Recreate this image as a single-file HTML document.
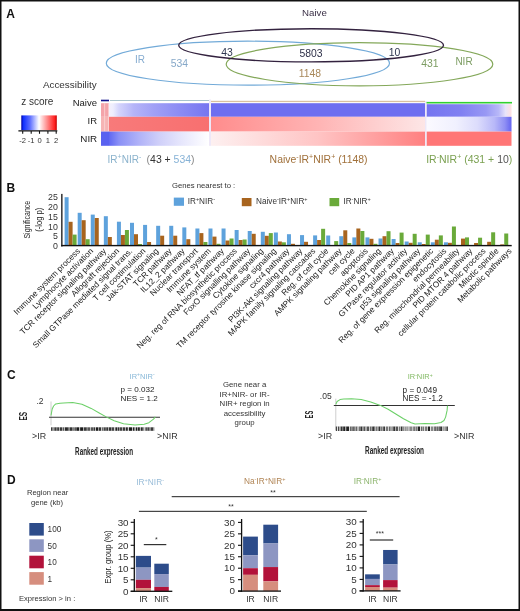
<!DOCTYPE html>
<html><head><meta charset="utf-8"><title>Figure</title>
<style>html,body{margin:0;padding:0;background:#fff;width:520px;height:611px;overflow:hidden;font-family:"Liberation Sans", sans-serif;}</style>
</head><body>
<div style="will-change:transform;width:520px;height:611px"><svg width="520" height="611" viewBox="0 0 520 611" style="display:block;font-family:'Liberation Sans', sans-serif" font-family="'Liberation Sans', sans-serif"><defs><linearGradient id="cb" x1="0" x2="1" y1="0" y2="0">
<stop offset="0" stop-color="#0000a0"/><stop offset="0.06" stop-color="#1030ff"/>
<stop offset="0.25" stop-color="#6070ff"/><stop offset="0.5" stop-color="#ffffff"/>
<stop offset="0.75" stop-color="#ff8080"/><stop offset="0.94" stop-color="#ff2020"/>
<stop offset="1" stop-color="#c00000"/></linearGradient><linearGradient id="s1n" x1="0" x2="1" y1="0" y2="0"><stop offset="0" stop-color="#f4f0fc"/><stop offset="0.04" stop-color="#eeeefe"/><stop offset="0.1" stop-color="#d4d4fc"/><stop offset="0.25" stop-color="#b4b4f8"/><stop offset="0.45" stop-color="#a0a0f6"/><stop offset="0.7" stop-color="#8c8cf4"/><stop offset="1" stop-color="#7676f0"/></linearGradient><linearGradient id="s1i" x1="0" x2="1" y1="0" y2="0"><stop offset="0" stop-color="#f87a7a"/><stop offset="1" stop-color="#f87070"/></linearGradient><linearGradient id="s1r" x1="0" x2="1" y1="0" y2="0"><stop offset="0" stop-color="#6068f2"/><stop offset="0.1" stop-color="#8a90f6"/><stop offset="0.3" stop-color="#b0b2f8"/><stop offset="0.5" stop-color="#cfcff9"/><stop offset="0.7" stop-color="#e4e4fc"/><stop offset="0.9" stop-color="#f6f6fe"/><stop offset="1" stop-color="#ffffff"/></linearGradient><linearGradient id="s2i" x1="0" x2="1" y1="0" y2="0"><stop offset="0" stop-color="#ff8c8c"/><stop offset="0.5" stop-color="#ffb4b4"/><stop offset="1" stop-color="#fde6e6"/></linearGradient><linearGradient id="s2r" x1="0" x2="1" y1="0" y2="0"><stop offset="0" stop-color="#fdf0f0"/><stop offset="0.5" stop-color="#ffc4c4"/><stop offset="1" stop-color="#ff8080"/></linearGradient><linearGradient id="s3n" x1="0" x2="1" y1="0" y2="0"><stop offset="0" stop-color="#7474f0"/><stop offset="0.4" stop-color="#8080f2"/><stop offset="0.7" stop-color="#9898f4"/><stop offset="0.85" stop-color="#b8b8f8"/><stop offset="0.93" stop-color="#e8e4fa"/><stop offset="1" stop-color="#ffe0e0"/></linearGradient><linearGradient id="s3i" x1="0" x2="1" y1="0" y2="0"><stop offset="0" stop-color="#fbfaff"/><stop offset="0.35" stop-color="#f0f0fe"/><stop offset="0.6" stop-color="#dcdcfc"/><stop offset="0.8" stop-color="#b8b8f8"/><stop offset="0.92" stop-color="#9090f4"/><stop offset="1" stop-color="#6464f0"/></linearGradient></defs><rect width="520" height="611" fill="#fff"/><text x="6.3" y="17.8" font-size="12" fill="#111" text-anchor="start" font-weight="bold" >A</text>
<text x="302" y="15.9" font-size="9.7" fill="#3c3148" text-anchor="start" font-weight="normal" >Naive</text>
<ellipse cx="247.9" cy="63.2" rx="141.6" ry="22" fill="none" stroke="#72aad8" stroke-width="1.2"/>
<ellipse cx="359.5" cy="64.2" rx="133.3" ry="21.6" fill="none" stroke="#84a85a" stroke-width="1.2"/>
<ellipse cx="311.1" cy="45.3" rx="132.4" ry="16.6" fill="none" stroke="#33223f" stroke-width="1.35"/>
<text x="135" y="62.8" font-size="10" fill="#86acd0" text-anchor="start" font-weight="normal" >IR</text>
<text x="170.8" y="67.1" font-size="10.4" fill="#86a8c8" text-anchor="start" font-weight="normal" >534</text>
<text x="221.2" y="55.5" font-size="10.4" fill="#2e3650" text-anchor="start" font-weight="normal" >43</text>
<text x="299.5" y="56.8" font-size="10.4" fill="#2e3048" text-anchor="start" font-weight="normal" >5803</text>
<text x="388.7" y="55.5" font-size="10.4" fill="#2e3650" text-anchor="start" font-weight="normal" >10</text>
<text x="298.7" y="76.8" font-size="10.4" fill="#a8885a" text-anchor="start" font-weight="normal" >1148</text>
<text x="421.2" y="67.4" font-size="10.4" fill="#7c9c62" text-anchor="start" font-weight="normal" >431</text>
<text x="455.4" y="64.8" font-size="10" fill="#7c9c62" text-anchor="start" font-weight="normal" >NIR</text>
<text x="42.9" y="87.7" font-size="9.9" fill="#333" text-anchor="start" font-weight="normal" >Accessibility</text>
<text x="21.2" y="104.7" font-size="10" fill="#333" text-anchor="start" font-weight="normal" >z score</text>
<rect x="21.30" y="115.40" width="35.50" height="14.80" fill="url(#cb)" />
<line x1="18.4" y1="130.9" x2="57.3" y2="130.9" stroke="#111" stroke-width="1.3" />
<line x1="22.7" y1="130.9" x2="22.7" y2="133.8" stroke="#111" stroke-width="1.1" />
<text x="22.7" y="143.3" font-size="7.6" fill="#333" text-anchor="middle" font-weight="normal" >-2</text>
<line x1="31.2" y1="130.9" x2="31.2" y2="133.8" stroke="#111" stroke-width="1.1" />
<text x="31.2" y="143.3" font-size="7.6" fill="#333" text-anchor="middle" font-weight="normal" >-1</text>
<line x1="39.5" y1="130.9" x2="39.5" y2="133.8" stroke="#111" stroke-width="1.1" />
<text x="39.5" y="143.3" font-size="7.6" fill="#333" text-anchor="middle" font-weight="normal" >0</text>
<line x1="47.9" y1="130.9" x2="47.9" y2="133.8" stroke="#111" stroke-width="1.1" />
<text x="47.9" y="143.3" font-size="7.6" fill="#333" text-anchor="middle" font-weight="normal" >1</text>
<line x1="56.2" y1="130.9" x2="56.2" y2="133.8" stroke="#111" stroke-width="1.1" />
<text x="56.2" y="143.3" font-size="7.6" fill="#333" text-anchor="middle" font-weight="normal" >2</text>
<text x="97" y="105.8" font-size="9.5" fill="#222" text-anchor="end" font-weight="normal" >Naive</text>
<text x="97" y="124.3" font-size="9.5" fill="#222" text-anchor="end" font-weight="normal" >IR</text>
<text x="97.2" y="141.6" font-size="9.8" fill="#222" text-anchor="end" font-weight="normal" >NIR</text>
<rect x="101.00" y="103.20" width="8.00" height="13.60" fill="#f4a4aa" />
<rect x="101.00" y="116.80" width="8.00" height="14.80" fill="#f6b4b4" />
<rect x="104.30" y="103.20" width="0.80" height="28.40" fill="#fbd6d6" />
<rect x="108.20" y="103.20" width="0.80" height="28.40" fill="#fbd6d6" />
<rect x="101.00" y="131.60" width="8.00" height="14.20" fill="#5a62f0" />
<rect x="109.00" y="103.20" width="100.00" height="13.60" fill="url(#s1n)" />
<rect x="109.00" y="116.80" width="100.00" height="14.80" fill="url(#s1i)" />
<rect x="109.00" y="131.60" width="100.00" height="14.20" fill="url(#s1r)" />
<rect x="211.00" y="103.20" width="214.00" height="13.60" fill="#6e6ef0" />
<rect x="211.00" y="116.80" width="214.00" height="14.80" fill="url(#s2i)" />
<rect x="211.00" y="131.60" width="214.00" height="14.20" fill="url(#s2r)" />
<rect x="426.50" y="104.20" width="85.00" height="12.60" fill="url(#s3n)" />
<rect x="426.50" y="116.80" width="85.00" height="14.80" fill="url(#s3i)" />
<rect x="426.50" y="131.60" width="85.00" height="14.20" fill="#ff7676" />
<rect x="209.00" y="99.50" width="2.00" height="46.30" fill="#eee8f8" />
<rect x="425.00" y="101.00" width="1.50" height="44.80" fill="#eee8f8" />
<rect x="101.00" y="99.70" width="8.00" height="1.60" fill="#10108a" />
<rect x="110.00" y="100.00" width="99.00" height="1.00" fill="#a8c4cc" />
<rect x="211.00" y="100.80" width="214.00" height="1.30" fill="#d8c0a0" />
<rect x="426.50" y="101.90" width="85.50" height="1.60" fill="#30d030" />
<text x="107.6" y="162.6" font-size="10" fill="#8ab2cc">IR<tspan dy="-3.6" font-size="7">+</tspan><tspan dy="3.6">NIR</tspan><tspan dy="-3.6" font-size="7">-</tspan></text>
<text x="146.6" y="162.6" font-size="10.45" fill="#888">(<tspan fill="#333">43 + </tspan><tspan fill="#86b2d6">534</tspan>)</text>
<text x="269.6" y="162.8" font-size="10.45" fill="#a0703a">Naive<tspan dy="-3.6" font-size="7">-</tspan><tspan dy="3.6">IR</tspan><tspan dy="-3.6" font-size="7">+</tspan><tspan dy="3.6">NIR</tspan><tspan dy="-3.6" font-size="7">+</tspan><tspan dy="3.6"> (1148)</tspan></text>
<text x="426.2" y="162.6" font-size="10.5" fill="#7aa050">IR<tspan dy="-3.6" font-size="7">-</tspan><tspan dy="3.6">NIR</tspan><tspan dy="-3.6" font-size="7">+</tspan><tspan dy="3.6"> (431 + </tspan><tspan fill="#555">10</tspan>)</text>
<text x="6.5" y="191.9" font-size="12" fill="#111" text-anchor="start" font-weight="bold" >B</text>
<text x="172" y="188.4" font-size="7.7" fill="#333" text-anchor="start" font-weight="normal" >Genes nearest to :</text>
<rect x="173.80" y="197.60" width="10.20" height="8.20" fill="#5ea2dc" />
<text x="187.7" y="203.7" font-size="8.2" fill="#333">IR<tspan dy="-2.6" font-size="5.5">+</tspan><tspan dy="2.6">NIR</tspan><tspan dy="-2.6" font-size="5.5">-</tspan></text>
<rect x="241.80" y="198.00" width="9.70" height="8.20" fill="#a8641e" />
<text x="256" y="203.7" font-size="8.2" fill="#333">Naive<tspan dy="-2.6" font-size="5.5">-</tspan><tspan dy="2.6">IR</tspan><tspan dy="-2.6" font-size="5.5">+</tspan><tspan dy="2.6">NIR</tspan><tspan dy="-2.6" font-size="5.5">+</tspan></text>
<rect x="329.50" y="198.00" width="9.70" height="8.20" fill="#6aaa3a" />
<text x="343.4" y="203.7" font-size="8.2" fill="#333">IR<tspan dy="-2.6" font-size="5.5">-</tspan><tspan dy="2.6">NIR</tspan><tspan dy="-2.6" font-size="5.5">+</tspan></text>
<rect x="64.60" y="197.20" width="4.00" height="48.30" fill="#5ea2dc" />
<rect x="68.60" y="221.80" width="4.00" height="23.70" fill="#a8641e" />
<rect x="72.60" y="234.60" width="4.00" height="10.90" fill="#6aaa3a" />
<rect x="77.68" y="212.80" width="4.00" height="32.70" fill="#5ea2dc" />
<rect x="81.68" y="220.20" width="4.00" height="25.30" fill="#a8641e" />
<rect x="85.68" y="239.20" width="4.00" height="6.30" fill="#6aaa3a" />
<rect x="90.76" y="214.60" width="4.00" height="30.90" fill="#5ea2dc" />
<rect x="94.76" y="218.00" width="4.00" height="27.50" fill="#a8641e" />
<rect x="103.84" y="216.20" width="4.00" height="29.30" fill="#5ea2dc" />
<rect x="107.84" y="237.00" width="4.00" height="8.50" fill="#a8641e" />
<rect x="116.92" y="221.70" width="4.00" height="23.80" fill="#5ea2dc" />
<rect x="120.92" y="235.00" width="4.00" height="10.50" fill="#a8641e" />
<rect x="124.92" y="230.00" width="4.00" height="15.50" fill="#6aaa3a" />
<rect x="130.00" y="222.80" width="4.00" height="22.70" fill="#5ea2dc" />
<rect x="134.00" y="234.20" width="4.00" height="11.30" fill="#a8641e" />
<rect x="138.00" y="244.00" width="4.00" height="1.50" fill="#6aaa3a" />
<rect x="143.08" y="224.90" width="4.00" height="20.60" fill="#5ea2dc" />
<rect x="147.08" y="242.00" width="4.00" height="3.50" fill="#a8641e" />
<rect x="156.16" y="225.80" width="4.00" height="19.70" fill="#5ea2dc" />
<rect x="160.16" y="235.70" width="4.00" height="9.80" fill="#a8641e" />
<rect x="169.24" y="225.80" width="4.00" height="19.70" fill="#5ea2dc" />
<rect x="173.24" y="235.70" width="4.00" height="9.80" fill="#a8641e" />
<rect x="182.32" y="227.40" width="4.00" height="18.10" fill="#5ea2dc" />
<rect x="186.32" y="239.20" width="4.00" height="6.30" fill="#a8641e" />
<rect x="195.40" y="228.50" width="4.00" height="17.00" fill="#5ea2dc" />
<rect x="199.40" y="233.10" width="4.00" height="12.40" fill="#a8641e" />
<rect x="203.40" y="242.00" width="4.00" height="3.50" fill="#6aaa3a" />
<rect x="208.48" y="228.50" width="4.00" height="17.00" fill="#5ea2dc" />
<rect x="212.48" y="236.60" width="4.00" height="8.90" fill="#a8641e" />
<rect x="216.48" y="243.80" width="4.00" height="1.70" fill="#6aaa3a" />
<rect x="221.56" y="228.50" width="4.00" height="17.00" fill="#5ea2dc" />
<rect x="225.56" y="240.50" width="4.00" height="5.00" fill="#a8641e" />
<rect x="229.56" y="238.50" width="4.00" height="7.00" fill="#6aaa3a" />
<rect x="234.64" y="230.00" width="4.00" height="15.50" fill="#5ea2dc" />
<rect x="238.64" y="240.00" width="4.00" height="5.50" fill="#a8641e" />
<rect x="242.64" y="239.50" width="4.00" height="6.00" fill="#6aaa3a" />
<rect x="247.72" y="231.00" width="4.00" height="14.50" fill="#5ea2dc" />
<rect x="251.72" y="233.80" width="4.00" height="11.70" fill="#a8641e" />
<rect x="260.80" y="231.80" width="4.00" height="13.70" fill="#5ea2dc" />
<rect x="264.80" y="235.80" width="4.00" height="9.70" fill="#a8641e" />
<rect x="268.80" y="233.10" width="4.00" height="12.40" fill="#6aaa3a" />
<rect x="273.88" y="232.50" width="4.00" height="13.00" fill="#5ea2dc" />
<rect x="277.88" y="241.50" width="4.00" height="4.00" fill="#a8641e" />
<rect x="281.88" y="242.30" width="4.00" height="3.20" fill="#6aaa3a" />
<rect x="286.96" y="234.20" width="4.00" height="11.30" fill="#5ea2dc" />
<rect x="290.96" y="243.80" width="4.00" height="1.70" fill="#a8641e" />
<rect x="300.04" y="235.10" width="4.00" height="10.40" fill="#5ea2dc" />
<rect x="304.04" y="241.80" width="4.00" height="3.70" fill="#a8641e" />
<rect x="313.12" y="235.40" width="4.00" height="10.10" fill="#5ea2dc" />
<rect x="317.12" y="240.00" width="4.00" height="5.50" fill="#a8641e" />
<rect x="321.12" y="228.80" width="4.00" height="16.70" fill="#6aaa3a" />
<rect x="326.20" y="235.50" width="4.00" height="10.00" fill="#5ea2dc" />
<rect x="334.20" y="241.10" width="4.00" height="4.40" fill="#6aaa3a" />
<rect x="339.28" y="236.20" width="4.00" height="9.30" fill="#5ea2dc" />
<rect x="343.28" y="230.30" width="4.00" height="15.20" fill="#a8641e" />
<rect x="347.28" y="243.00" width="4.00" height="2.50" fill="#6aaa3a" />
<rect x="352.36" y="237.40" width="4.00" height="8.10" fill="#5ea2dc" />
<rect x="356.36" y="228.50" width="4.00" height="17.00" fill="#a8641e" />
<rect x="360.36" y="231.00" width="4.00" height="14.50" fill="#6aaa3a" />
<rect x="365.44" y="237.40" width="4.00" height="8.10" fill="#5ea2dc" />
<rect x="369.44" y="238.80" width="4.00" height="6.70" fill="#a8641e" />
<rect x="373.44" y="243.80" width="4.00" height="1.70" fill="#6aaa3a" />
<rect x="378.52" y="238.50" width="4.00" height="7.00" fill="#5ea2dc" />
<rect x="382.52" y="236.20" width="4.00" height="9.30" fill="#a8641e" />
<rect x="386.52" y="231.20" width="4.00" height="14.30" fill="#6aaa3a" />
<rect x="391.60" y="239.00" width="4.00" height="6.50" fill="#5ea2dc" />
<rect x="395.60" y="243.00" width="4.00" height="2.50" fill="#a8641e" />
<rect x="399.60" y="232.60" width="4.00" height="12.90" fill="#6aaa3a" />
<rect x="404.68" y="241.50" width="4.00" height="4.00" fill="#5ea2dc" />
<rect x="408.68" y="242.80" width="4.00" height="2.70" fill="#a8641e" />
<rect x="412.68" y="233.80" width="4.00" height="11.70" fill="#6aaa3a" />
<rect x="417.76" y="242.30" width="4.00" height="3.20" fill="#5ea2dc" />
<rect x="421.76" y="244.00" width="4.00" height="1.50" fill="#a8641e" />
<rect x="425.76" y="234.60" width="4.00" height="10.90" fill="#6aaa3a" />
<rect x="430.84" y="242.30" width="4.00" height="3.20" fill="#5ea2dc" />
<rect x="434.84" y="239.70" width="4.00" height="5.80" fill="#a8641e" />
<rect x="438.84" y="235.40" width="4.00" height="10.10" fill="#6aaa3a" />
<rect x="443.92" y="242.30" width="4.00" height="3.20" fill="#5ea2dc" />
<rect x="447.92" y="242.80" width="4.00" height="2.70" fill="#a8641e" />
<rect x="451.92" y="226.50" width="4.00" height="19.00" fill="#6aaa3a" />
<rect x="461.00" y="238.60" width="4.00" height="6.90" fill="#a8641e" />
<rect x="465.00" y="237.40" width="4.00" height="8.10" fill="#6aaa3a" />
<rect x="474.08" y="243.00" width="4.00" height="2.50" fill="#a8641e" />
<rect x="478.08" y="237.70" width="4.00" height="7.80" fill="#6aaa3a" />
<rect x="487.16" y="241.80" width="4.00" height="3.70" fill="#a8641e" />
<rect x="491.16" y="232.30" width="4.00" height="13.20" fill="#6aaa3a" />
<rect x="500.24" y="244.40" width="4.00" height="1.10" fill="#a8641e" />
<rect x="504.24" y="233.50" width="4.00" height="12.00" fill="#6aaa3a" />
<rect x="61.20" y="193.90" width="1.30" height="52.60" fill="#111" />
<rect x="61.20" y="244.90" width="450.50" height="1.40" fill="#111" />
<text x="57.9" y="200.35" font-size="8.8" fill="#333" text-anchor="end" font-weight="normal" >25</text>
<text x="57.9" y="210.07" font-size="8.8" fill="#333" text-anchor="end" font-weight="normal" >20</text>
<text x="57.9" y="219.79" font-size="8.8" fill="#333" text-anchor="end" font-weight="normal" >15</text>
<text x="57.9" y="229.51" font-size="8.8" fill="#333" text-anchor="end" font-weight="normal" >10</text>
<text x="57.9" y="239.23" font-size="8.8" fill="#333" text-anchor="end" font-weight="normal" >5</text>
<text x="57.9" y="248.95" font-size="8.8" fill="#333" text-anchor="end" font-weight="normal" >0</text>
<text transform="translate(29.9,219.7) rotate(-90)" font-size="9.4" fill="#222" text-anchor="middle" textLength="37.8" lengthAdjust="spacingAndGlyphs">Significance</text>
<text transform="translate(41.6,219.7) rotate(-90)" font-size="8.4" fill="#222" text-anchor="middle" textLength="24" lengthAdjust="spacingAndGlyphs">(-log p)</text>
<text transform="translate(80.60,251.6) rotate(-45)" font-size="8.3" fill="#222" text-anchor="end">Immune system process</text>
<text transform="translate(93.68,251.6) rotate(-45)" font-size="8.3" fill="#222" text-anchor="end">Lymphocyte activation</text>
<text transform="translate(106.76,251.6) rotate(-45)" font-size="8.3" fill="#222" text-anchor="end">TCR receptor signaling pathway</text>
<text transform="translate(119.84,251.6) rotate(-45)" font-size="8.3" fill="#222" text-anchor="end">Allograft rejection</text>
<text transform="translate(132.92,251.6) rotate(-45)" font-size="8.3" fill="#222" text-anchor="end">Small GTPase mediated signal trans.</text>
<text transform="translate(146.00,251.6) rotate(-45)" font-size="8.3" fill="#222" text-anchor="end">T cell costimulation</text>
<text transform="translate(159.08,251.6) rotate(-45)" font-size="8.3" fill="#222" text-anchor="end">Jak-STAT signaling</text>
<text transform="translate(172.16,251.6) rotate(-45)" font-size="8.3" fill="#222" text-anchor="end">TCR pathway</text>
<text transform="translate(185.24,251.6) rotate(-45)" font-size="8.3" fill="#222" text-anchor="end">IL12_2 pathway</text>
<text transform="translate(198.32,251.6) rotate(-45)" font-size="8.3" fill="#222" text-anchor="end">Nuclear transport</text>
<text transform="translate(211.40,251.6) rotate(-45)" font-size="8.3" fill="#222" text-anchor="end">Immune system</text>
<text transform="translate(224.48,251.6) rotate(-45)" font-size="8.3" fill="#222" text-anchor="end">NFAT_tf pathway</text>
<text transform="translate(237.56,251.6) rotate(-45)" font-size="8.3" fill="#222" text-anchor="end">Neg. reg of RNA biosynthetic process</text>
<text transform="translate(250.64,251.6) rotate(-45)" font-size="8.3" fill="#222" text-anchor="end">FoxO signalling pathway</text>
<text transform="translate(263.72,251.6) rotate(-45)" font-size="8.3" fill="#222" text-anchor="end">Cytokine signaling</text>
<text transform="translate(276.80,251.6) rotate(-45)" font-size="8.3" fill="#222" text-anchor="end">TM receptor tyrosine kinase signaling</text>
<text transform="translate(289.88,251.6) rotate(-45)" font-size="8.3" fill="#222" text-anchor="end">cxcr4 pathway</text>
<text transform="translate(302.96,251.6) rotate(-45)" font-size="8.3" fill="#222" text-anchor="end">PI3K-Akt signaling pathway</text>
<text transform="translate(316.04,251.6) rotate(-45)" font-size="8.3" fill="#222" text-anchor="end">MAPK family signaling cascades</text>
<text transform="translate(329.12,251.6) rotate(-45)" font-size="8.3" fill="#222" text-anchor="end">Reg. of cell cycle</text>
<text transform="translate(342.20,251.6) rotate(-45)" font-size="8.3" fill="#222" text-anchor="end">AMPK signaling pathway</text>
<text transform="translate(355.28,251.6) rotate(-45)" font-size="8.3" fill="#222" text-anchor="end">cell cycle</text>
<text transform="translate(368.36,251.6) rotate(-45)" font-size="8.3" fill="#222" text-anchor="end">apoptosis</text>
<text transform="translate(381.44,251.6) rotate(-45)" font-size="8.3" fill="#222" text-anchor="end">Chemokine signaling</text>
<text transform="translate(394.52,251.6) rotate(-45)" font-size="8.3" fill="#222" text-anchor="end">PID AP1 pathway</text>
<text transform="translate(407.60,251.6) rotate(-45)" font-size="8.3" fill="#222" text-anchor="end">GTPase regulator activity</text>
<text transform="translate(420.68,251.6) rotate(-45)" font-size="8.3" fill="#222" text-anchor="end">p53 signaling pathway</text>
<text transform="translate(433.76,251.6) rotate(-45)" font-size="8.3" fill="#222" text-anchor="end">Reg. of gene expression epigenetic</text>
<text transform="translate(446.84,251.6) rotate(-45)" font-size="8.3" fill="#222" text-anchor="end">endocytosis</text>
<text transform="translate(459.92,251.6) rotate(-45)" font-size="8.3" fill="#222" text-anchor="end">Reg. mitochondrial permeability</text>
<text transform="translate(473.00,251.6) rotate(-45)" font-size="8.3" fill="#222" text-anchor="end">PID MTOR 4 pathway</text>
<text transform="translate(486.08,251.6) rotate(-45)" font-size="8.3" fill="#222" text-anchor="end">cellular protein catabolic process</text>
<text transform="translate(499.16,251.6) rotate(-45)" font-size="8.3" fill="#222" text-anchor="end">Mitotic spindle</text>
<text transform="translate(512.24,251.6) rotate(-45)" font-size="8.3" fill="#222" text-anchor="end">Metabolic pathways</text>
<text x="6.9" y="378.8" font-size="12" fill="#111" text-anchor="start" font-weight="bold" >C</text>
<line x1="51" y1="401.5" x2="51" y2="425.3" stroke="#c8c8c8" stroke-width="0.9" />
<line x1="49" y1="417.2" x2="160" y2="417.2" stroke="#333" stroke-width="1.1" />
<path d="M51.0,415.5 L52.2,409.0 L53.6,406.0 L55.7,403.9 L60.0,403.3 L63.5,403.1 L72.7,402.4 L81.9,404.2 L91.2,408.4 L99.2,413.0 L106.2,416.9 L114.2,420.8 L123.5,423.8 L135.0,425.0 L144.2,424.3 L148.9,422.7 L153.5,419.2 L155.3,416.9" fill="none" stroke="#6cd068" stroke-width="1.05" stroke-linejoin="round"/>
<rect x="51.00" y="427.30" width="1.12" height="3.50" fill="#3a3a3a" />
<rect x="52.12" y="427.30" width="0.40" height="3.50" fill="#aaa" />
<rect x="52.52" y="427.30" width="1.08" height="3.50" fill="#3a3a3a" />
<rect x="53.61" y="427.30" width="0.70" height="3.50" fill="#bbb" />
<rect x="54.31" y="427.30" width="2.36" height="3.50" fill="#3a3a3a" />
<rect x="56.67" y="427.30" width="0.50" height="3.50" fill="#888" />
<rect x="57.17" y="427.30" width="1.97" height="3.50" fill="#3a3a3a" />
<rect x="59.14" y="427.30" width="0.70" height="3.50" fill="#bbb" />
<rect x="59.84" y="427.30" width="2.26" height="3.50" fill="#3a3a3a" />
<rect x="62.10" y="427.30" width="0.40" height="3.50" fill="#fff" />
<rect x="62.50" y="427.30" width="1.87" height="3.50" fill="#555" />
<rect x="64.37" y="427.30" width="0.50" height="3.50" fill="#ddd" />
<rect x="64.87" y="427.30" width="3.07" height="3.50" fill="#2a2a2a" />
<rect x="67.94" y="427.30" width="0.40" height="3.50" fill="#888" />
<rect x="68.34" y="427.30" width="0.86" height="3.50" fill="#444" />
<rect x="69.20" y="427.30" width="0.40" height="3.50" fill="#bbb" />
<rect x="69.60" y="427.30" width="2.45" height="3.50" fill="#333" />
<rect x="72.04" y="427.30" width="0.40" height="3.50" fill="#ddd" />
<rect x="72.44" y="427.30" width="1.33" height="3.50" fill="#333" />
<rect x="73.78" y="427.30" width="0.70" height="3.50" fill="#ddd" />
<rect x="74.48" y="427.30" width="1.36" height="3.50" fill="#222" />
<rect x="75.84" y="427.30" width="0.50" height="3.50" fill="#bbb" />
<rect x="76.34" y="427.30" width="3.09" height="3.50" fill="#1a1a1a" />
<rect x="79.42" y="427.30" width="0.70" height="3.50" fill="#ddd" />
<rect x="80.12" y="427.30" width="3.01" height="3.50" fill="#1a1a1a" />
<rect x="83.13" y="427.30" width="0.50" height="3.50" fill="#fff" />
<rect x="83.63" y="427.30" width="3.18" height="3.50" fill="#3a3a3a" />
<rect x="86.82" y="427.30" width="0.60" height="3.50" fill="#888" />
<rect x="87.42" y="427.30" width="2.58" height="3.50" fill="#555" />
<rect x="90.00" y="427.30" width="1.00" height="3.50" fill="#bbb" />
<rect x="91.00" y="427.30" width="2.02" height="3.50" fill="#555" />
<rect x="93.02" y="427.30" width="0.50" height="3.50" fill="#aaa" />
<rect x="93.52" y="427.30" width="1.48" height="3.50" fill="#333" />
<rect x="95.00" y="427.30" width="1.00" height="3.50" fill="#bbb" />
<rect x="96.00" y="427.30" width="2.21" height="3.50" fill="#1a1a1a" />
<rect x="98.21" y="427.30" width="0.70" height="3.50" fill="#999" />
<rect x="98.91" y="427.30" width="2.58" height="3.50" fill="#333" />
<rect x="101.50" y="427.30" width="0.70" height="3.50" fill="#fff" />
<rect x="102.20" y="427.30" width="1.22" height="3.50" fill="#444" />
<rect x="103.41" y="427.30" width="0.60" height="3.50" fill="#888" />
<rect x="104.01" y="427.30" width="1.85" height="3.50" fill="#444" />
<rect x="105.87" y="427.30" width="0.40" height="3.50" fill="#999" />
<rect x="106.27" y="427.30" width="2.05" height="3.50" fill="#333" />
<rect x="108.32" y="427.30" width="0.60" height="3.50" fill="#bbb" />
<rect x="108.92" y="427.30" width="2.56" height="3.50" fill="#333" />
<rect x="111.48" y="427.30" width="0.40" height="3.50" fill="#aaa" />
<rect x="111.88" y="427.30" width="2.49" height="3.50" fill="#444" />
<rect x="114.36" y="427.30" width="1.00" height="3.50" fill="#ddd" />
<rect x="115.36" y="427.30" width="1.74" height="3.50" fill="#222" />
<rect x="117.11" y="427.30" width="0.50" height="3.50" fill="#ddd" />
<rect x="117.61" y="427.30" width="1.34" height="3.50" fill="#1a1a1a" />
<rect x="118.95" y="427.30" width="0.50" height="3.50" fill="#ddd" />
<rect x="119.45" y="427.30" width="3.01" height="3.50" fill="#444" />
<rect x="122.46" y="427.30" width="0.50" height="3.50" fill="#bbb" />
<rect x="122.96" y="427.30" width="2.03" height="3.50" fill="#3a3a3a" />
<rect x="125.00" y="427.30" width="1.00" height="3.50" fill="#aaa" />
<rect x="126.00" y="427.30" width="1.90" height="3.50" fill="#2a2a2a" />
<rect x="127.90" y="427.30" width="1.00" height="3.50" fill="#ddd" />
<rect x="128.90" y="427.30" width="3.10" height="3.50" fill="#1a1a1a" />
<rect x="131.99" y="427.30" width="0.70" height="3.50" fill="#fff" />
<rect x="132.69" y="427.30" width="2.03" height="3.50" fill="#222" />
<rect x="134.72" y="427.30" width="1.00" height="3.50" fill="#ddd" />
<rect x="135.72" y="427.30" width="1.29" height="3.50" fill="#1a1a1a" />
<rect x="137.02" y="427.30" width="0.70" height="3.50" fill="#aaa" />
<rect x="137.72" y="427.30" width="2.17" height="3.50" fill="#222" />
<rect x="139.89" y="427.30" width="1.00" height="3.50" fill="#bbb" />
<rect x="140.89" y="427.30" width="1.96" height="3.50" fill="#2a2a2a" />
<rect x="142.85" y="427.30" width="0.70" height="3.50" fill="#aaa" />
<rect x="143.55" y="427.30" width="0.80" height="3.50" fill="#444" />
<rect x="144.35" y="427.30" width="1.00" height="3.50" fill="#ddd" />
<rect x="145.35" y="427.30" width="1.59" height="3.50" fill="#444" />
<rect x="146.95" y="427.30" width="0.40" height="3.50" fill="#999" />
<rect x="147.35" y="427.30" width="2.32" height="3.50" fill="#444" />
<rect x="149.67" y="427.30" width="1.00" height="3.50" fill="#999" />
<rect x="150.67" y="427.30" width="2.87" height="3.50" fill="#3a3a3a" />
<rect x="153.54" y="427.30" width="1.00" height="3.50" fill="#aaa" />
<text x="36.4" y="403.7" font-size="8.5" fill="#333" text-anchor="start" font-weight="normal" >.2</text>
<text transform="translate(27.0,416.2) rotate(-90)" font-size="10.2" font-weight="bold" fill="#222" text-anchor="middle" textLength="8.6" lengthAdjust="spacingAndGlyphs">ES</text>
<text x="129.6" y="378.6" font-size="7.5" fill="#88b8d8">IR<tspan dy="-2.4" font-size="5">+</tspan><tspan dy="2.4">NIR</tspan><tspan dy="-2.4" font-size="5">-</tspan></text>
<text x="120.6" y="392.1" font-size="8.1" fill="#222" text-anchor="start" font-weight="normal" >p = 0.032</text>
<text x="120.6" y="401.3" font-size="8.1" fill="#222" text-anchor="start" font-weight="normal" >NES = 1.2</text>
<text x="32.0" y="439.3" font-size="8.9" fill="#333" text-anchor="start" font-weight="normal" >&gt;IR</text>
<text x="157.1" y="439.3" font-size="8.9" fill="#333" text-anchor="start" font-weight="normal" >&gt;NIR</text>
<text x="75.1" y="454.5" font-size="10.6" fill="#222" font-weight="bold" textLength="57.9" lengthAdjust="spacingAndGlyphs">Ranked expression</text>
<text x="244.6" y="387.4" font-size="7.8" fill="#333" text-anchor="middle" font-weight="normal" >Gene near a</text>
<text x="244.6" y="396.9" font-size="7.8" fill="#333" text-anchor="middle" font-weight="normal" >IR+NIR- or IR-</text>
<text x="244.6" y="406.4" font-size="7.8" fill="#333" text-anchor="middle" font-weight="normal" >NIR+ region in</text>
<text x="244.6" y="415.9" font-size="7.8" fill="#333" text-anchor="middle" font-weight="normal" >accessibility</text>
<text x="244.6" y="425.4" font-size="7.8" fill="#333" text-anchor="middle" font-weight="normal" >group</text>
<line x1="335.8" y1="398.7" x2="335.8" y2="430" stroke="#c8c8c8" stroke-width="0.9" />
<line x1="333.8" y1="405.5" x2="454.8" y2="405.5" stroke="#333" stroke-width="1.1" />
<path d="M335.8,404.4 L337.1,401.5 L340.0,399.6 L343.8,399.0 L351.5,398.7 L361.2,399.6 L370.8,401.9 L380.4,405.4 L388.1,409.2 L395.8,414.0 L403.5,418.8 L411.2,422.7 L415.0,424.0 L425.0,423.6 L434.6,423.8 L441.0,422.5 L444.0,420.5 L445.6,417.1 L447.1,410.4 L447.5,405.6" fill="none" stroke="#6cd068" stroke-width="1.05" stroke-linejoin="round"/>
<rect x="335.80" y="426.50" width="1.51" height="4.50" fill="#444" />
<rect x="337.31" y="426.50" width="0.80" height="4.50" fill="#eee" />
<rect x="338.11" y="426.50" width="0.91" height="4.50" fill="#333" />
<rect x="339.02" y="426.50" width="0.60" height="4.50" fill="#ddd" />
<rect x="339.62" y="426.50" width="0.93" height="4.50" fill="#555" />
<rect x="340.55" y="426.50" width="0.40" height="4.50" fill="#999" />
<rect x="340.95" y="426.50" width="1.75" height="4.50" fill="#333" />
<rect x="342.70" y="426.50" width="0.50" height="4.50" fill="#999" />
<rect x="343.20" y="426.50" width="2.01" height="4.50" fill="#222" />
<rect x="345.21" y="426.50" width="1.00" height="4.50" fill="#999" />
<rect x="346.21" y="426.50" width="2.88" height="4.50" fill="#222" />
<rect x="349.10" y="426.50" width="1.00" height="4.50" fill="#ddd" />
<rect x="350.10" y="426.50" width="1.67" height="4.50" fill="#555" />
<rect x="351.77" y="426.50" width="0.40" height="4.50" fill="#ddd" />
<rect x="352.17" y="426.50" width="2.69" height="4.50" fill="#666" />
<rect x="354.86" y="426.50" width="0.80" height="4.50" fill="#aaa" />
<rect x="355.66" y="426.50" width="1.99" height="4.50" fill="#666" />
<rect x="357.65" y="426.50" width="1.00" height="4.50" fill="#eee" />
<rect x="358.65" y="426.50" width="1.20" height="4.50" fill="#555" />
<rect x="359.85" y="426.50" width="0.60" height="4.50" fill="#999" />
<rect x="360.45" y="426.50" width="2.01" height="4.50" fill="#333" />
<rect x="362.45" y="426.50" width="1.00" height="4.50" fill="#999" />
<rect x="363.45" y="426.50" width="2.16" height="4.50" fill="#555" />
<rect x="365.61" y="426.50" width="1.00" height="4.50" fill="#ccc" />
<rect x="366.61" y="426.50" width="2.51" height="4.50" fill="#555" />
<rect x="369.12" y="426.50" width="1.00" height="4.50" fill="#ccc" />
<rect x="370.12" y="426.50" width="1.60" height="4.50" fill="#555" />
<rect x="371.72" y="426.50" width="0.50" height="4.50" fill="#eee" />
<rect x="372.22" y="426.50" width="2.52" height="4.50" fill="#333" />
<rect x="374.73" y="426.50" width="1.00" height="4.50" fill="#bbb" />
<rect x="375.73" y="426.50" width="1.96" height="4.50" fill="#777" />
<rect x="377.69" y="426.50" width="0.80" height="4.50" fill="#bbb" />
<rect x="378.49" y="426.50" width="2.14" height="4.50" fill="#333" />
<rect x="380.63" y="426.50" width="0.40" height="4.50" fill="#ddd" />
<rect x="381.03" y="426.50" width="1.72" height="4.50" fill="#777" />
<rect x="382.75" y="426.50" width="0.50" height="4.50" fill="#ccc" />
<rect x="383.25" y="426.50" width="1.73" height="4.50" fill="#333" />
<rect x="384.98" y="426.50" width="1.00" height="4.50" fill="#ddd" />
<rect x="385.98" y="426.50" width="2.54" height="4.50" fill="#777" />
<rect x="388.51" y="426.50" width="0.60" height="4.50" fill="#eee" />
<rect x="389.11" y="426.50" width="1.57" height="4.50" fill="#555" />
<rect x="390.68" y="426.50" width="1.00" height="4.50" fill="#ccc" />
<rect x="391.68" y="426.50" width="0.95" height="4.50" fill="#333" />
<rect x="392.63" y="426.50" width="0.60" height="4.50" fill="#ccc" />
<rect x="393.23" y="426.50" width="2.33" height="4.50" fill="#333" />
<rect x="395.57" y="426.50" width="0.40" height="4.50" fill="#eee" />
<rect x="395.97" y="426.50" width="2.34" height="4.50" fill="#555" />
<rect x="398.31" y="426.50" width="0.60" height="4.50" fill="#eee" />
<rect x="398.91" y="426.50" width="1.65" height="4.50" fill="#777" />
<rect x="400.56" y="426.50" width="0.40" height="4.50" fill="#ccc" />
<rect x="400.96" y="426.50" width="1.58" height="4.50" fill="#333" />
<rect x="402.54" y="426.50" width="0.80" height="4.50" fill="#999" />
<rect x="403.34" y="426.50" width="1.28" height="4.50" fill="#666" />
<rect x="404.62" y="426.50" width="0.50" height="4.50" fill="#eee" />
<rect x="405.12" y="426.50" width="1.34" height="4.50" fill="#888" />
<rect x="406.47" y="426.50" width="0.80" height="4.50" fill="#999" />
<rect x="407.27" y="426.50" width="1.17" height="4.50" fill="#888" />
<rect x="408.43" y="426.50" width="1.00" height="4.50" fill="#bbb" />
<rect x="409.43" y="426.50" width="2.74" height="4.50" fill="#888" />
<rect x="412.18" y="426.50" width="1.00" height="4.50" fill="#bbb" />
<rect x="413.18" y="426.50" width="2.35" height="4.50" fill="#777" />
<rect x="415.53" y="426.50" width="0.80" height="4.50" fill="#aaa" />
<rect x="416.33" y="426.50" width="1.13" height="4.50" fill="#444" />
<rect x="417.46" y="426.50" width="0.50" height="4.50" fill="#aaa" />
<rect x="417.96" y="426.50" width="2.25" height="4.50" fill="#222" />
<rect x="420.21" y="426.50" width="0.80" height="4.50" fill="#ddd" />
<rect x="421.01" y="426.50" width="1.20" height="4.50" fill="#666" />
<rect x="422.21" y="426.50" width="0.40" height="4.50" fill="#aaa" />
<rect x="422.61" y="426.50" width="1.72" height="4.50" fill="#777" />
<rect x="424.33" y="426.50" width="1.00" height="4.50" fill="#ddd" />
<rect x="425.33" y="426.50" width="1.50" height="4.50" fill="#444" />
<rect x="426.83" y="426.50" width="1.00" height="4.50" fill="#ddd" />
<rect x="427.83" y="426.50" width="2.24" height="4.50" fill="#222" />
<rect x="430.08" y="426.50" width="0.80" height="4.50" fill="#eee" />
<rect x="430.88" y="426.50" width="2.56" height="4.50" fill="#888" />
<rect x="433.43" y="426.50" width="0.80" height="4.50" fill="#ccc" />
<rect x="434.23" y="426.50" width="1.67" height="4.50" fill="#555" />
<rect x="435.90" y="426.50" width="0.80" height="4.50" fill="#999" />
<rect x="436.70" y="426.50" width="1.22" height="4.50" fill="#555" />
<rect x="437.92" y="426.50" width="0.80" height="4.50" fill="#aaa" />
<rect x="438.72" y="426.50" width="1.04" height="4.50" fill="#222" />
<rect x="439.76" y="426.50" width="0.40" height="4.50" fill="#999" />
<rect x="440.16" y="426.50" width="2.05" height="4.50" fill="#333" />
<rect x="442.21" y="426.50" width="0.60" height="4.50" fill="#ddd" />
<rect x="442.81" y="426.50" width="0.86" height="4.50" fill="#555" />
<rect x="443.66" y="426.50" width="1.00" height="4.50" fill="#ccc" />
<rect x="444.66" y="426.50" width="1.13" height="4.50" fill="#666" />
<rect x="445.79" y="426.50" width="0.60" height="4.50" fill="#ddd" />
<rect x="446.39" y="426.50" width="1.51" height="4.50" fill="#333" />
<text x="319.8" y="399.4" font-size="8.5" fill="#333" text-anchor="start" font-weight="normal" >.05</text>
<text transform="translate(313.0,414.6) rotate(-90)" font-size="10.2" font-weight="bold" fill="#222" text-anchor="middle" textLength="7.7" lengthAdjust="spacingAndGlyphs">ES</text>
<text x="407.7" y="379.3" font-size="7.5" fill="#84bb66">IR<tspan dy="-2.4" font-size="5">-</tspan><tspan dy="2.4">NIR</tspan><tspan dy="-2.4" font-size="5">+</tspan></text>
<text x="402.6" y="392.5" font-size="8.2" fill="#222" text-anchor="start" font-weight="normal" >p = 0.049</text>
<text x="402.6" y="401.4" font-size="8.2" fill="#222" text-anchor="start" font-weight="normal" >NES = -1.2</text>
<text x="318.0" y="439.3" font-size="8.9" fill="#333" text-anchor="start" font-weight="normal" >&gt;IR</text>
<text x="454.0" y="439.3" font-size="8.9" fill="#333" text-anchor="start" font-weight="normal" >&gt;NIR</text>
<text x="365" y="454" font-size="10.6" fill="#222" font-weight="bold" textLength="59" lengthAdjust="spacingAndGlyphs">Ranked expression</text>
<text x="6.9" y="483.8" font-size="12" fill="#111" text-anchor="start" font-weight="bold" >D</text>
<text x="47.6" y="495.3" font-size="7.6" fill="#333" text-anchor="middle" font-weight="normal" >Region near</text>
<text x="47.0" y="504.5" font-size="7.6" fill="#333" text-anchor="middle" font-weight="normal" >gene (kb)</text>
<rect x="29.30" y="523.00" width="14.50" height="12.60" fill="#2d4c8a" />
<text x="47.6" y="532.4" font-size="8.2" fill="#333" text-anchor="start" font-weight="normal" >100</text>
<rect x="29.30" y="539.30" width="14.50" height="12.60" fill="#8d96c2" />
<text x="47.6" y="548.6999999999999" font-size="8.2" fill="#333" text-anchor="start" font-weight="normal" >50</text>
<rect x="29.30" y="555.70" width="14.50" height="12.60" fill="#b2123a" />
<text x="47.6" y="565.1" font-size="8.2" fill="#333" text-anchor="start" font-weight="normal" >10</text>
<rect x="29.30" y="572.10" width="14.50" height="12.60" fill="#d68e7e" />
<text x="47.6" y="581.5" font-size="8.2" fill="#333" text-anchor="start" font-weight="normal" >1</text>
<text x="18.9" y="600.6" font-size="7.6" fill="#333" text-anchor="start" font-weight="normal" >Expression &gt; in :</text>
<text transform="translate(111.2,557) rotate(-90)" font-size="8.8" fill="#222" text-anchor="middle" textLength="53.3" lengthAdjust="spacingAndGlyphs">Expr. group (%)</text>
<rect x="135.80" y="555.88" width="15.20" height="11.73" fill="#2d4c8a" />
<rect x="135.80" y="567.61" width="15.20" height="12.19" fill="#8d96c2" />
<rect x="135.80" y="579.80" width="15.20" height="8.28" fill="#b2123a" />
<rect x="135.80" y="588.08" width="15.20" height="3.22" fill="#d68e7e" />
<rect x="154.30" y="563.70" width="14.50" height="10.35" fill="#2d4c8a" />
<rect x="154.30" y="574.05" width="14.50" height="12.88" fill="#8d96c2" />
<rect x="154.30" y="586.93" width="14.50" height="4.37" fill="#b2123a" />
<rect x="133.65" y="519.00" width="1.30" height="73.00" fill="#111" />
<rect x="130.70" y="590.65" width="41.60" height="1.30" fill="#111" />
<rect x="130.70" y="521.75" width="3.60" height="1.10" fill="#111" />
<text transform="translate(128.6,525.50) scale(1.12,1)" font-size="8.8" fill="#333" text-anchor="end">30</text>
<rect x="130.70" y="533.25" width="3.60" height="1.10" fill="#111" />
<text transform="translate(128.6,537.00) scale(1.12,1)" font-size="8.8" fill="#333" text-anchor="end">25</text>
<rect x="130.70" y="544.75" width="3.60" height="1.10" fill="#111" />
<text transform="translate(128.6,548.50) scale(1.12,1)" font-size="8.8" fill="#333" text-anchor="end">20</text>
<rect x="130.70" y="556.25" width="3.60" height="1.10" fill="#111" />
<text transform="translate(128.6,560.00) scale(1.12,1)" font-size="8.8" fill="#333" text-anchor="end">15</text>
<rect x="130.70" y="567.75" width="3.60" height="1.10" fill="#111" />
<text transform="translate(128.6,571.50) scale(1.12,1)" font-size="8.8" fill="#333" text-anchor="end">10</text>
<rect x="130.70" y="579.25" width="3.60" height="1.10" fill="#111" />
<text transform="translate(128.6,583.00) scale(1.12,1)" font-size="8.8" fill="#333" text-anchor="end">5</text>
<rect x="130.70" y="590.75" width="3.60" height="1.10" fill="#111" />
<text transform="translate(128.6,594.50) scale(1.12,1)" font-size="8.8" fill="#333" text-anchor="end">0</text>
<text x="143.5" y="602.4" font-size="8.6" fill="#333" text-anchor="middle" font-weight="normal" >IR</text>
<text x="161.6" y="602.4" font-size="8.6" fill="#333" text-anchor="middle" font-weight="normal" >NIR</text>
<rect x="243.10" y="536.60" width="14.80" height="18.78" fill="#2d4c8a" />
<rect x="243.10" y="555.38" width="14.80" height="12.82" fill="#8d96c2" />
<rect x="243.10" y="568.20" width="14.80" height="6.64" fill="#b2123a" />
<rect x="243.10" y="574.84" width="14.80" height="16.26" fill="#d68e7e" />
<rect x="263.30" y="524.69" width="14.80" height="18.78" fill="#2d4c8a" />
<rect x="263.30" y="543.47" width="14.80" height="23.59" fill="#8d96c2" />
<rect x="263.30" y="567.06" width="14.80" height="14.31" fill="#b2123a" />
<rect x="263.30" y="581.37" width="14.80" height="9.73" fill="#d68e7e" />
<rect x="240.95" y="519.00" width="1.30" height="72.80" fill="#111" />
<rect x="238.00" y="590.45" width="43.00" height="1.30" fill="#111" />
<rect x="238.00" y="521.85" width="3.60" height="1.10" fill="#111" />
<text transform="translate(234.9,525.60) scale(1.12,1)" font-size="8.8" fill="#333" text-anchor="end">30</text>
<rect x="238.00" y="533.30" width="3.60" height="1.10" fill="#111" />
<text transform="translate(234.9,537.05) scale(1.12,1)" font-size="8.8" fill="#333" text-anchor="end">25</text>
<rect x="238.00" y="544.75" width="3.60" height="1.10" fill="#111" />
<text transform="translate(234.9,548.50) scale(1.12,1)" font-size="8.8" fill="#333" text-anchor="end">20</text>
<rect x="238.00" y="556.20" width="3.60" height="1.10" fill="#111" />
<text transform="translate(234.9,559.95) scale(1.12,1)" font-size="8.8" fill="#333" text-anchor="end">15</text>
<rect x="238.00" y="567.65" width="3.60" height="1.10" fill="#111" />
<text transform="translate(234.9,571.40) scale(1.12,1)" font-size="8.8" fill="#333" text-anchor="end">10</text>
<rect x="238.00" y="579.10" width="3.60" height="1.10" fill="#111" />
<text transform="translate(234.9,582.85) scale(1.12,1)" font-size="8.8" fill="#333" text-anchor="end">5</text>
<rect x="238.00" y="590.55" width="3.60" height="1.10" fill="#111" />
<text transform="translate(234.9,594.30) scale(1.12,1)" font-size="8.8" fill="#333" text-anchor="end">0</text>
<text x="250.5" y="602.4" font-size="8.6" fill="#333" text-anchor="middle" font-weight="normal" >IR</text>
<text x="270.7" y="602.4" font-size="8.6" fill="#333" text-anchor="middle" font-weight="normal" >NIR</text>
<rect x="365.10" y="574.34" width="14.70" height="4.60" fill="#2d4c8a" />
<rect x="365.10" y="578.94" width="14.70" height="6.21" fill="#8d96c2" />
<rect x="365.10" y="585.15" width="14.70" height="1.84" fill="#b2123a" />
<rect x="365.10" y="586.99" width="14.70" height="3.91" fill="#d68e7e" />
<rect x="383.10" y="549.96" width="14.50" height="14.49" fill="#2d4c8a" />
<rect x="383.10" y="564.45" width="14.50" height="15.64" fill="#8d96c2" />
<rect x="383.10" y="580.09" width="14.50" height="7.59" fill="#b2123a" />
<rect x="383.10" y="587.68" width="14.50" height="3.22" fill="#d68e7e" />
<rect x="362.55" y="519.00" width="1.30" height="72.60" fill="#111" />
<rect x="359.60" y="590.25" width="41.00" height="1.30" fill="#111" />
<rect x="359.60" y="521.35" width="3.60" height="1.10" fill="#111" />
<text transform="translate(356.8,525.10) scale(1.12,1)" font-size="8.8" fill="#333" text-anchor="end">30</text>
<rect x="359.60" y="532.85" width="3.60" height="1.10" fill="#111" />
<text transform="translate(356.8,536.60) scale(1.12,1)" font-size="8.8" fill="#333" text-anchor="end">25</text>
<rect x="359.60" y="544.35" width="3.60" height="1.10" fill="#111" />
<text transform="translate(356.8,548.10) scale(1.12,1)" font-size="8.8" fill="#333" text-anchor="end">20</text>
<rect x="359.60" y="555.85" width="3.60" height="1.10" fill="#111" />
<text transform="translate(356.8,559.60) scale(1.12,1)" font-size="8.8" fill="#333" text-anchor="end">15</text>
<rect x="359.60" y="567.35" width="3.60" height="1.10" fill="#111" />
<text transform="translate(356.8,571.10) scale(1.12,1)" font-size="8.8" fill="#333" text-anchor="end">10</text>
<rect x="359.60" y="578.85" width="3.60" height="1.10" fill="#111" />
<text transform="translate(356.8,582.60) scale(1.12,1)" font-size="8.8" fill="#333" text-anchor="end">5</text>
<rect x="359.60" y="590.35" width="3.60" height="1.10" fill="#111" />
<text transform="translate(356.8,594.10) scale(1.12,1)" font-size="8.8" fill="#333" text-anchor="end">0</text>
<text x="372.5" y="602.4" font-size="8.6" fill="#333" text-anchor="middle" font-weight="normal" >IR</text>
<text x="390.4" y="602.4" font-size="8.6" fill="#333" text-anchor="middle" font-weight="normal" >NIR</text>
<rect x="171.70" y="496.10" width="227.90" height="1.10" fill="#333" />
<rect x="138.90" y="510.80" width="227.90" height="1.10" fill="#333" />
<rect x="143.80" y="544.00" width="22.50" height="1.20" fill="#333" />
<rect x="369.80" y="539.40" width="23.40" height="1.20" fill="#333" />
<text x="156.3" y="541.5" font-size="7" fill="#333" text-anchor="middle" font-weight="normal" >*</text>
<text x="272.9" y="494.8" font-size="7" fill="#333" text-anchor="middle" font-weight="normal" >**</text>
<text x="231" y="509" font-size="7" fill="#333" text-anchor="middle" font-weight="normal" >**</text>
<text x="379.8" y="536" font-size="7" fill="#333" text-anchor="middle" font-weight="normal" >***</text>
<text x="136.3" y="484.5" font-size="8.3" fill="#98bcd8">IR<tspan dy="-2.6" font-size="5.5">+</tspan><tspan dy="2.6">NIR</tspan><tspan dy="-2.6" font-size="5.5">-</tspan></text>
<text x="243.9" y="484" font-size="8.3" fill="#b08454">Na<tspan dy="-2.6" font-size="5.5">-</tspan><tspan dy="2.6">IR</tspan><tspan dy="-2.6" font-size="5.5">+</tspan><tspan dy="2.6">NIR</tspan><tspan dy="-2.6" font-size="5.5">+</tspan></text>
<text x="353.7" y="484" font-size="8.3" fill="#8cb46c">IR<tspan dy="-2.6" font-size="5.5">-</tspan><tspan dy="2.6">NIR</tspan><tspan dy="-2.6" font-size="5.5">+</tspan></text>
<rect x="0.00" y="0.00" width="520.00" height="1.50" fill="#111" />
<rect x="0.00" y="0.00" width="1.50" height="611.00" fill="#111" />
<rect x="518.50" y="0.00" width="1.50" height="611.00" fill="#111" />
<rect x="0.00" y="609.00" width="520.00" height="2.00" fill="#111" /></svg></div>
</body></html>
